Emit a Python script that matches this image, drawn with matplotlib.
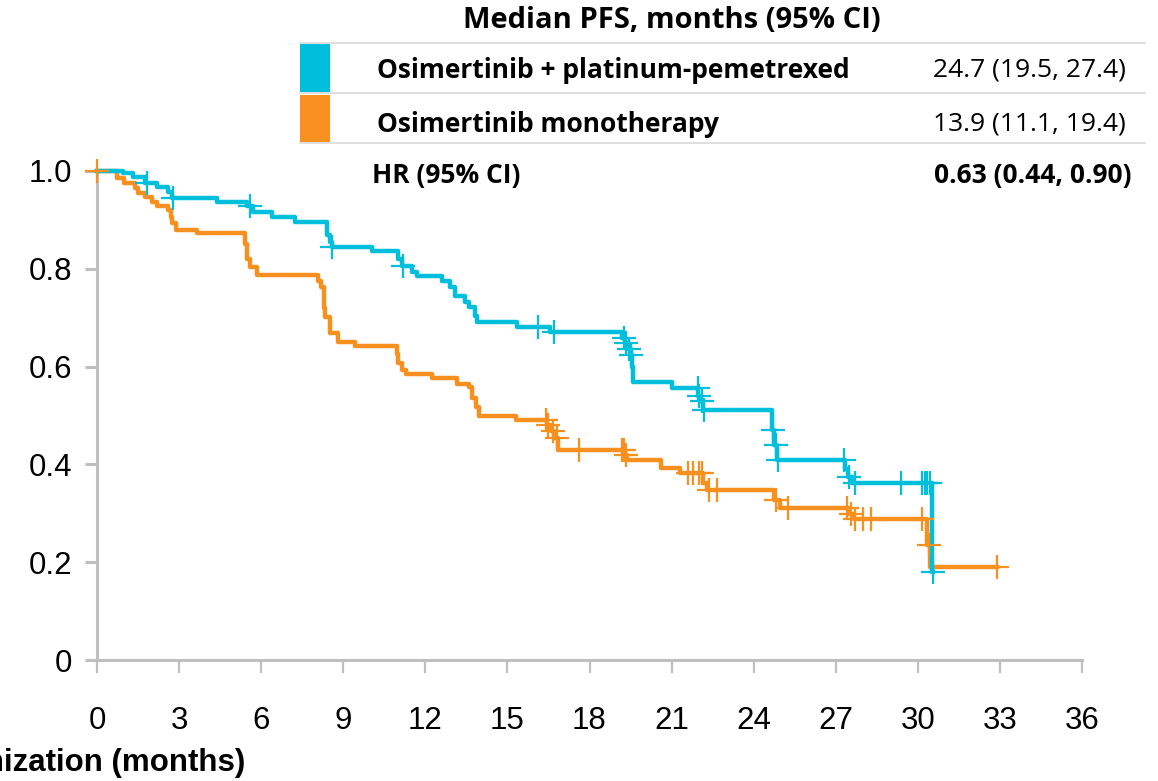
import numpy as np
import matplotlib.pyplot as plt
from matplotlib.patches import Rectangle
from matplotlib.lines import Line2D

# Kaplan-Meier steps: (event time, survival after event)
cyan_t = [0.95, 1.3, 1.75, 2.2, 2.6, 2.75, 4.4, 5.5, 5.7, 6.4, 7.24, 8.4, 8.5, 8.6,
          10.05, 11.0, 11.15, 11.5, 11.7, 12.6, 12.9, 13.1, 13.45, 13.6, 13.8, 13.9,
          15.35, 16.55, 19.2, 19.3, 19.4, 19.5, 19.55, 19.6, 21.0, 21.97, 22.05, 22.15,
          24.67, 24.75, 24.85, 27.34, 27.45, 27.6, 30.5]
cyan_s = [0.996, 0.988, 0.975, 0.967, 0.957, 0.945, 0.937, 0.928, 0.916, 0.906, 0.896, 0.870, 0.855, 0.845,
          0.836, 0.820, 0.806, 0.793, 0.785, 0.775, 0.763, 0.744, 0.732, 0.722, 0.703, 0.691,
          0.681, 0.671, 0.658, 0.648, 0.636, 0.624, 0.600, 0.569, 0.556, 0.540, 0.530, 0.511,
          0.470, 0.440, 0.409, 0.390, 0.375, 0.362, 0.180]
cyan_cens = [1.83, 2.78, 5.6, 8.6, 11.2, 16.1, 16.7, 19.25, 19.35, 19.45, 19.52,
             21.95, 22.0, 22.1, 22.2, 24.7, 24.8, 24.9, 27.3, 27.5, 27.7,
             29.4, 30.15, 30.25, 30.35, 30.45, 30.55]

orange_t = [0.73, 1.0, 1.4, 1.5, 1.75, 2.0, 2.2, 2.6, 2.7, 2.75, 2.9, 3.65,
            5.4, 5.5, 5.6, 5.85, 8.08, 8.2, 8.3, 8.35, 8.5, 8.8, 9.43,
            10.96, 11.0, 11.15, 11.3, 12.24, 13.15, 13.6, 13.7, 13.85, 13.95,
            15.3, 16.45, 16.6, 16.7, 16.86, 19.3, 19.36, 20.6, 21.3, 22.15, 22.3,
            24.75, 24.96, 27.5, 27.65, 30.35, 30.45]
orange_s = [0.985, 0.975, 0.965, 0.955, 0.947, 0.937, 0.928, 0.920, 0.906, 0.894, 0.879, 0.873,
            0.850, 0.820, 0.804, 0.787, 0.775, 0.763, 0.720, 0.701, 0.669, 0.650, 0.642,
            0.625, 0.607, 0.593, 0.585, 0.577, 0.564, 0.558, 0.536, 0.517, 0.499,
            0.491, 0.480, 0.468, 0.455, 0.429, 0.420, 0.409, 0.393, 0.382, 0.362, 0.348,
            0.327, 0.310, 0.298, 0.288, 0.235, 0.190]
orange_cens = [0.0, 16.4, 16.5, 16.65, 16.8, 17.6, 19.2, 19.25, 19.33, 21.6, 21.8,
               22.0, 22.1, 22.35, 22.65, 24.8, 25.25, 27.4, 27.55, 27.7, 28.0, 28.3,
               30.15, 30.4, 32.9]

x_ticks = list(range(0, 37, 3))
y_ticks = [0, 0.2, 0.4, 0.6, 0.8, 1.0]
y_labels = ['0', '0.2', '0.4', '0.6', '0.8', '1.0']

rows = ['Osimertinib + platinum-pemetrexed', 'Osimertinib monotherapy']
medians = ['24.7 (19.5, 27.4)', '13.9 (11.1, 19.4)']
hr_text = '0.63 (0.44, 0.90)'

CYAN = '#00bfdc'
ORANGE = '#f7901e'
GREY = '#bfbfbf'

W, H = 1158, 781
fig = plt.figure(figsize=(W / 100, H / 100), dpi=100)
ax = fig.add_axes([97 / W, 1 - 660 / H, (1082 - 97) / W, (660 - 171) / H])


def surv_at(times, surv, t):
    i = np.searchsorted(times, t, side='right')
    return 1.0 if i == 0 else surv[i - 1]


def draw_arm(times, surv, cens, color):
    end = max(cens[-1], times[-1])
    xs = [0] + times + [end]
    ys = [1.0] + surv + [surv[-1]]
    ax.step(xs, ys, where='post', color=color, lw=3.2, clip_on=False, zorder=3)
    cy = [surv_at(times, surv, c) for c in cens]
    ax.plot(cens, cy, ls='none', marker='+', ms=17, mew=1.6, color=color,
            clip_on=False, zorder=4)


draw_arm(orange_t, orange_s, orange_cens, ORANGE)
draw_arm(cyan_t, cyan_s, cyan_cens, CYAN)

ax.set_xlim(0, 36)
ax.set_ylim(0, 1.0)
for s in ['top', 'right']:
    ax.spines[s].set_visible(False)
for s in ['left', 'bottom']:
    ax.spines[s].set_color(GREY)
    ax.spines[s].set_linewidth(2.2)
ax.set_xticks(x_ticks)
ax.set_xticklabels([str(v) for v in x_ticks])
ax.set_yticks(y_ticks)
ax.set_yticklabels(y_labels)
ax.tick_params(axis='x', colors=GREY, length=9, width=1.6, pad=24, labelcolor='black',
               labelsize=22.5)
ax.tick_params(axis='y', colors=GREY, length=9, width=2.2, pad=9, labelcolor='black',
               labelsize=22.5)
for lab in ax.get_xticklabels() + ax.get_yticklabels():
    lab.set_fontfamily('Liberation Sans')

fig.text(245 / W, 1 - 763 / H, 'Time from randomization (months)', ha='right', va='center',
         fontsize=22.5, fontweight='bold', family='Liberation Sans')


# legend table at the top, drawn in figure pixels
def fx(px):
    return px / W


def fy(py):
    return 1 - py / H


lfont = dict(family='Open Sans', fontsize=19)
fig.text(fx(672), fy(20), 'Median PFS, months (95% CI)', ha='center', va='center',
         fontweight='bold', family='Open Sans', fontsize=21)
for py in [43, 93, 143]:
    fig.add_artist(Line2D([fx(300), fx(1145)], [fy(py), fy(py)], color='#d9d9d9', lw=1.2))
fig.add_artist(Rectangle((fx(300), fy(92)), fx(330) - fx(300), fy(44) - fy(92),
                         color=CYAN, lw=0))
fig.add_artist(Rectangle((fx(300), fy(142)), fx(330) - fx(300), fy(95) - fy(142),
                         color=ORANGE, lw=0))
for i, (name, med) in enumerate(zip(rows, medians)):
    py = 70 + 54 * i
    fig.text(fx(377), fy(py), name, ha='left', va='center', fontweight='bold', **lfont)
    fig.text(fx(1126), fy(py), med, ha='right', va='center', **lfont)
fig.text(fx(372), fy(175), 'HR (95% CI)', ha='left', va='center', fontweight='bold', **lfont)
fig.text(fx(1132), fy(175), hr_text, ha='right', va='center', fontweight='bold', **lfont)

fig.savefig('out.png', dpi=100)
